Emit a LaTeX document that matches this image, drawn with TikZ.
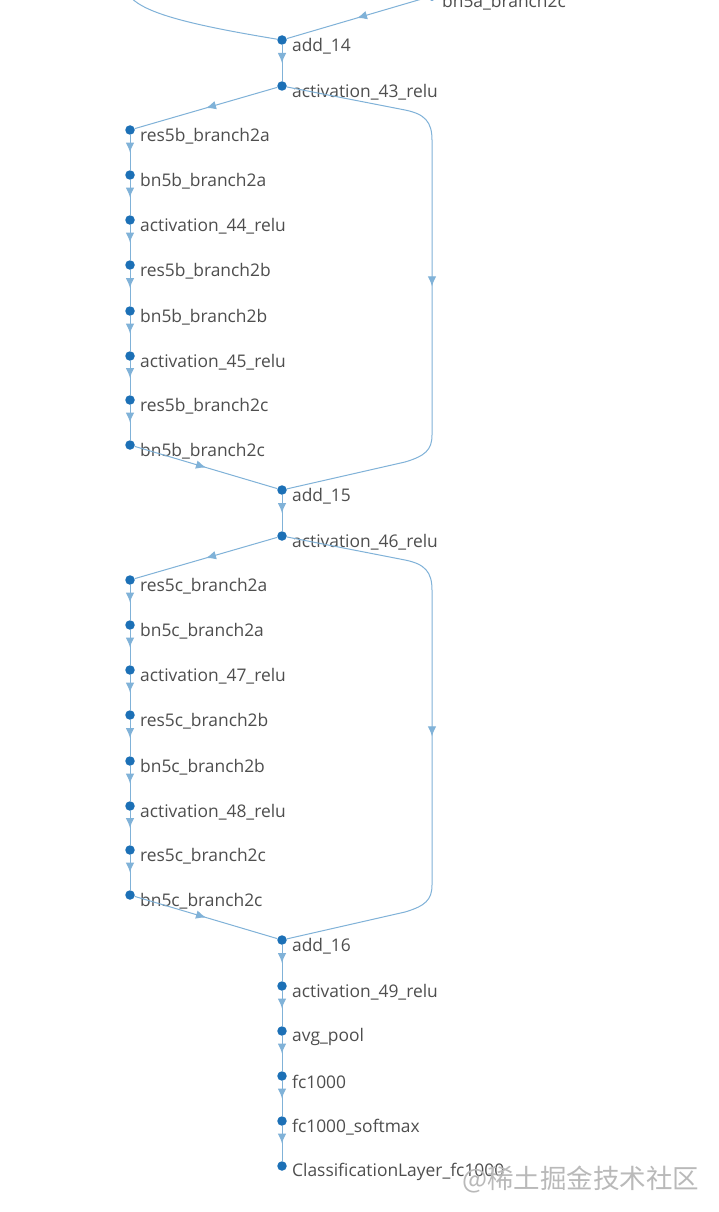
\documentclass[tikz,border=0pt]{standalone}
\usepackage{fontspec}
\setmainfont{Open Sans}
\newfontfamily\cjkfont{Noto Sans CJK SC}
\usepackage{tikz}
\usetikzlibrary{calc,arrows.meta,decorations.markings}
\definecolor{dotblue}{RGB}{28,112,182}
\definecolor{edgeblue}{RGB}{128,178,216}
\definecolor{lbltext}{RGB}{78,78,78}
\definecolor{wmark}{RGB}{185,185,185}
\tikzset{
    layer/.style={circle,fill=dotblue,inner sep=0pt,minimum size=9.5pt},
    lbl/.style={text=lbltext,font=\fontsize{17.4}{19}\selectfont,inner sep=0pt,yshift=-6pt},
    flow/.style={draw=edgeblue,line width=1pt,postaction={decorate},
        decoration={markings,mark=at position 0.5 with {\arrow[edgeblue]{Latex[length=10pt,width=8.5pt]}}}},
    skip/.style={draw=edgeblue,line width=1pt}
}

\begin{document}
\begin{tikzpicture}[x=1pt,y=-1pt,label distance=5pt]
    \useasboundingbox (0,0) rectangle (718,1212);
    \fill[white] (0,0) rectangle (718,1212);
    \clip (0,0) rectangle (718,1212);

    % end of the res5a block
    \coordinate (prevskip) at (128,-6);
    \node[layer,label={[lbl]right:bn5a\_branch2c}] (bn5a2c) at (432,-4) {};
    \node[layer,label={[lbl]right:add\_14}] (add14) at (282,40) {};
    \node[layer,label={[lbl]right:activation\_43\_relu}] (act43) at (282,86) {};

    % res5b block
    \node[layer,label={[lbl]right:res5b\_branch2a}] (res5b2a) at (130,130) {};
    \node[layer,label={[lbl]right:bn5b\_branch2a}] (bn5b2a) at (130,175) {};
    \node[layer,label={[lbl]right:activation\_44\_relu}] (act44) at (130,220) {};
    \node[layer,label={[lbl]right:res5b\_branch2b}] (res5b2b) at (130,265) {};
    \node[layer,label={[lbl]right:bn5b\_branch2b}] (bn5b2b) at (130,311) {};
    \node[layer,label={[lbl]right:activation\_45\_relu}] (act45) at (130,356) {};
    \node[layer,label={[lbl]right:res5b\_branch2c}] (res5b2c) at (130,400) {};
    \node[layer,label={[lbl]right:bn5b\_branch2c}] (bn5b2c) at (130,445) {};
    \node[layer,label={[lbl]right:add\_15}] (add15) at (282,490) {};
    \node[layer,label={[lbl]right:activation\_46\_relu}] (act46) at (282,536) {};

    % res5c block
    \node[layer,label={[lbl]right:res5c\_branch2a}] (res5c2a) at (130,580) {};
    \node[layer,label={[lbl]right:bn5c\_branch2a}] (bn5c2a) at (130,625) {};
    \node[layer,label={[lbl]right:activation\_47\_relu}] (act47) at (130,670) {};
    \node[layer,label={[lbl]right:res5c\_branch2b}] (res5c2b) at (130,715) {};
    \node[layer,label={[lbl]right:bn5c\_branch2b}] (bn5c2b) at (130,761) {};
    \node[layer,label={[lbl]right:activation\_48\_relu}] (act48) at (130,806) {};
    \node[layer,label={[lbl]right:res5c\_branch2c}] (res5c2c) at (130,850) {};
    \node[layer,label={[lbl]right:bn5c\_branch2c}] (bn5c2c) at (130,895) {};
    \node[layer,label={[lbl]right:add\_16}] (add16) at (282,940) {};

    % head
    \node[layer,label={[lbl]right:activation\_49\_relu}] (act49) at (282,986) {};
    \node[layer,label={[lbl]right:avg\_pool}] (avgpool) at (282,1031) {};
    \node[layer,label={[lbl]right:fc1000}] (fc) at (282,1076) {};
    \node[layer,label={[lbl]right:fc1000\_softmax}] (softmax) at (282,1121) {};
    \node[layer,label={[lbl]right:ClassificationLayer\_fc1000}] (classlayer) at (282,1166) {};

    % connections
    \draw[skip] (prevskip) .. controls (140,12) and (185,24) .. (add14);
    \draw[flow] (bn5a2c) -- (add14);
    \draw[flow] (add14) -- (act43);
    \draw[flow] (act43) -- (res5b2a);
    \draw[flow] (res5b2a) -- (bn5b2a);
    \draw[flow] (bn5b2a) -- (act44);
    \draw[flow] (act44) -- (res5b2b);
    \draw[flow] (res5b2b) -- (bn5b2b);
    \draw[flow] (bn5b2b) -- (act45);
    \draw[flow] (act45) -- (res5b2c);
    \draw[flow] (res5b2c) -- (bn5b2c);
    \draw[flow] (bn5b2c) -- (add15);
    \draw[flow] (act43) -- (405,110) .. controls (425,114) and (432,122) .. (432,140)
        -- (432,435) .. controls (432,450) and (425,456) .. (405,462) -- (add15);
    \draw[flow] (add15) -- (act46);
    \draw[flow] (act46) -- (res5c2a);
    \draw[flow] (res5c2a) -- (bn5c2a);
    \draw[flow] (bn5c2a) -- (act47);
    \draw[flow] (act47) -- (res5c2b);
    \draw[flow] (res5c2b) -- (bn5c2b);
    \draw[flow] (bn5c2b) -- (act48);
    \draw[flow] (act48) -- (res5c2c);
    \draw[flow] (res5c2c) -- (bn5c2c);
    \draw[flow] (bn5c2c) -- (add16);
    \draw[flow] (act46) -- (405,560) .. controls (425,564) and (432,572) .. (432,590)
        -- (432,885) .. controls (432,900) and (425,906) .. (405,912) -- (add16);
    \draw[flow] (add16) -- (act49);
    \draw[flow] (act49) -- (avgpool);
    \draw[flow] (avgpool) -- (fc);
    \draw[flow] (fc) -- (softmax);
    \draw[flow] (softmax) -- (classlayer);

    % watermark
    \node[text=wmark,font=\cjkfont\fontsize{26.5}{29}\selectfont,anchor=west,inner sep=0pt] (wm) at (462,1180) {@稀土掘金技术社区};
\end{tikzpicture}
\end{document}
